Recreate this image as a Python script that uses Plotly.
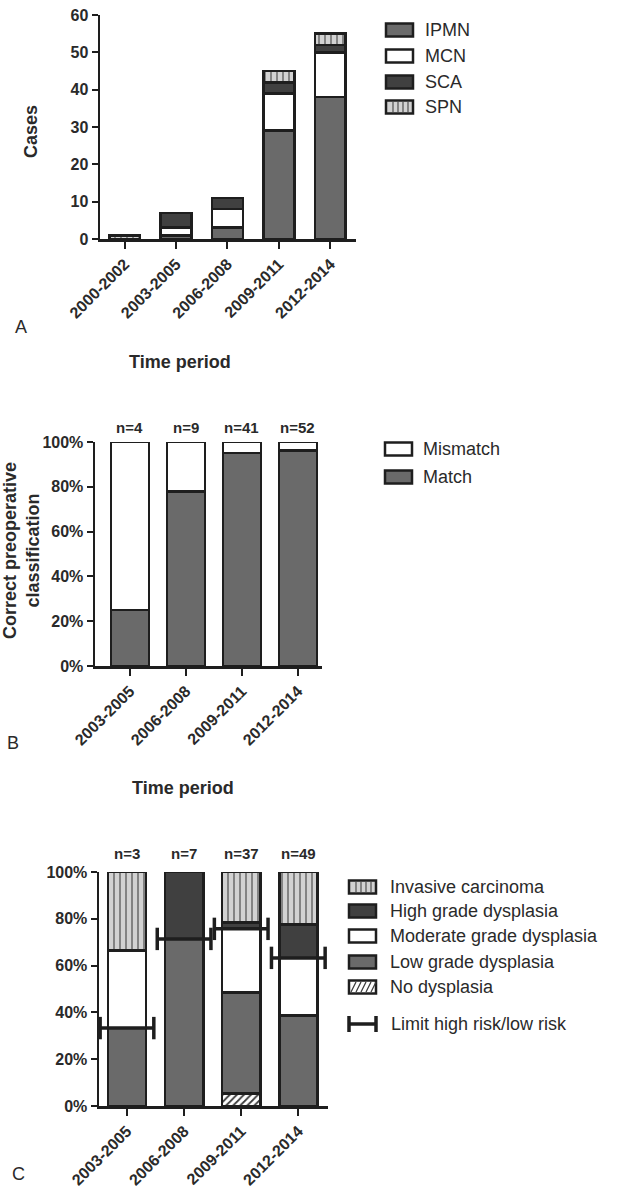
import plotly.graph_objects as go

W, H = 618, 1190

# ---------------- Data ----------------
# Panel A: cases per period
periods_a = ["2000-2002", "2003-2005", "2006-2008", "2009-2011", "2012-2014"]
ipmn = [None, 1, 3, 29, 38]
mcn = [None, 2, 5, 10, 12]
sca = [None, 4, 3, 3, 2]
spn = [1, None, None, 3, 3]

# Panel B: correct preoperative classification (%)
periods_bc = ["2003-2005", "2006-2008", "2009-2011", "2012-2014"]
match = [25.0, 77.8, 95.1, 96.2]
mismatch = [75.0, 22.2, 4.9, 3.8]
n_b = ["n=4", "n=9", "n=41", "n=52"]

# Panel C: grade of dysplasia (%)
no_dys = [None, None, 5.4, None]
low_grade = [33.3, 71.4, 43.2, 38.8]
moderate_grade = [33.3, None, 27.0, 24.5]
high_grade = [None, 28.6, 2.7, 14.3]
invasive = [33.4, None, 21.7, 22.4]
limit_risk = [33.3, 71.4, 75.7, 63.3]
n_c = ["n=3", "n=7", "n=37", "n=49"]

# ---------------- Styles ----------------
FONT = "Liberation Sans, Arial, sans-serif"
INK = "#1e1e1e"
TXT = "#2a2a2a"
MID = "#6a6a6a"
DARK = "#404040"
LIGHT = "#d2d2d2"
OUTLINE = dict(color=INK, width=2.7)

idx_a = list(range(len(periods_a)))
idx_bc = list(range(len(periods_bc)))


def fx(px):
    return px / W


def fy(py):
    return 1 - py / H


fig = go.Figure()


def add_bar(x, y, ax, color, width, pattern=None):
    marker = dict(color=color, line=OUTLINE)
    if pattern:
        marker["pattern"] = pattern
    fig.add_trace(go.Bar(x=x, y=y, xaxis="x" + ax, yaxis="y" + ax,
                         marker=marker, width=width, cliponaxis=False,
                         showlegend=False, hoverinfo="skip"))


stripe = dict(shape="|", bgcolor=LIGHT, fgcolor="#5a5a5a", size=6,
              solidity=0.22, fillmode="replace")
hatch = dict(shape="/", bgcolor="white", fgcolor="#3a3a3a", size=5,
             solidity=0.35, fillmode="replace")

# Panel A
add_bar(idx_a, ipmn, "", MID, 0.6)
add_bar(idx_a, mcn, "", "white", 0.6)
add_bar(idx_a, sca, "", DARK, 0.6)
add_bar(idx_a, spn, "", LIGHT, 0.6, stripe)

# Panel B
add_bar(idx_bc, match, "2", MID, 0.68)
add_bar(idx_bc, mismatch, "2", "white", 0.68)

# Panel C
add_bar(idx_bc, no_dys, "3", "white", 0.67, hatch)
add_bar(idx_bc, low_grade, "3", MID, 0.67)
add_bar(idx_bc, moderate_grade, "3", "white", 0.67)
add_bar(idx_bc, high_grade, "3", DARK, 0.67)
add_bar(idx_bc, invasive, "3", LIGHT, 0.67, stripe)

# Limit high risk / low risk markers (I-beam: line with end caps)
HALF = 0.47
lx, ly = [], []
for i, v in zip(idx_bc, limit_risk):
    lx += [i - HALF, i + HALF, None]
    ly += [v, v, None]
fig.add_trace(go.Scatter(
    x=lx, y=ly, xaxis="x3", yaxis="y3", mode="lines+markers",
    line=dict(color=INK, width=3.5),
    marker=dict(symbol="line-ns", size=16, line=dict(color=INK, width=3.5)),
    cliponaxis=False, showlegend=False, hoverinfo="skip"))

# ---------------- Axes ----------------
ytickfont = dict(family=FONT, size=16, color=TXT, weight="bold")
xtickfont = dict(family=FONT, size=16, color=TXT, weight="bold")


def xax(d0, d1, rng, anchor, vals, labels):
    return dict(domain=[fx(d0), fx(d1)], range=rng, anchor=anchor,
                tickmode="array", tickvals=vals, ticktext=labels,
                showline=True, linecolor=INK, linewidth=2.5, ticks="outside",
                ticklen=7, tickwidth=2, tickcolor=INK, tickangle=-45,
                tickfont=xtickfont, showgrid=False, zeroline=False,
                fixedrange=True, automargin=False)


def yax(d0, d1, rng, tickvals, ticktext, anchor):
    return dict(domain=[fy(d0), fy(d1)], range=rng, anchor=anchor,
                showline=True, linecolor=INK, linewidth=2.5, ticks="outside",
                ticklen=6, tickwidth=2, tickcolor=INK, tickmode="array",
                tickvals=tickvals, ticktext=ticktext, tickfont=ytickfont,
                showgrid=False, zeroline=False, fixedrange=True,
                automargin=False)


pct_vals = [0, 20, 40, 60, 80, 100]
pct_text = [f"{v}%" for v in pct_vals]
a_vals = [0, 10, 20, 30, 40, 50, 60]

fig.update_layout(
    template="none",
    width=W, height=H, margin=dict(l=0, r=0, t=0, b=0, pad=0, autoexpand=False),
    paper_bgcolor="white", plot_bgcolor="white", barmode="stack",
    showlegend=False, font=dict(family=FONT, color=TXT),
    xaxis=xax(100, 356, [-0.48, 4.5], "y", idx_a, periods_a),
    yaxis=yax(239, 15, [0, 60], a_vals, [str(v) for v in a_vals], "x"),
    xaxis2=xax(95, 322, [-0.625, 3.43], "y2", idx_bc, periods_bc),
    yaxis2=yax(666, 442, [0, 100], pct_vals, pct_text, "x2"),
    xaxis3=xax(99, 328, [-0.49, 3.52], "y3", idx_bc, periods_bc),
    yaxis3=yax(1106, 872, [0, 100], pct_vals, pct_text, "x3"),
)

# ---------------- Annotations ----------------
ann = []


def text(px, py, s, size=18, bold=False, angle=0, xanchor="center"):
    ann.append(dict(x=fx(px), y=fy(py), xref="paper", yref="paper", text=s,
                    showarrow=False, textangle=angle, xanchor=xanchor,
                    yanchor="middle",
                    font=dict(family=FONT, size=size, color=TXT,
                              weight="bold" if bold else "normal")))


text(31, 132, "Cases", 18, True, -90)
text(180, 362, "Time period", 18, True)
text(21, 327, "A", 18)
text(21, 551, "Correct preoperative<br>classification", 18, True, -90)
text(183, 788, "Time period", 18, True)
text(13, 743, "B", 18)
text(18, 1174, "C", 18)

for lbl, i in zip(n_b, idx_bc):
    ann.append(dict(x=i, y=fy(427), xref="x2", yref="paper", text=lbl,
                    showarrow=False, yanchor="middle",
                    font=dict(family=FONT, size=15, color=TXT, weight="bold")))
for lbl, i in zip(n_c, idx_bc):
    ann.append(dict(x=i, y=fy(853), xref="x3", yref="paper", text=lbl,
                    showarrow=False, yanchor="middle",
                    font=dict(family=FONT, size=15, color=TXT, weight="bold")))

# ---------------- Legends (manual) ----------------
shapes = []


def rect(x0, yc, fill):
    shapes.append(dict(type="rect", xref="paper", yref="paper",
                       x0=fx(x0), x1=fx(x0 + 27), y0=fy(yc + 6.5), y1=fy(yc - 6.5),
                       fillcolor=fill, line=dict(color=INK, width=2.5)))


def line(x0, y0, x1, y1, color=INK, width=2.5):
    shapes.append(dict(type="line", xref="paper", yref="paper",
                       x0=fx(x0), y0=fy(y0), x1=fx(x1), y1=fy(y1),
                       line=dict(color=color, width=width)))


def striped(x0, yc):
    rect(x0, yc, LIGHT)
    for dx in (7, 12, 17, 22):
        line(x0 + dx, yc - 5, x0 + dx, yc + 5, "#5a5a5a", 1.3)


def hatched(x0, yc):
    rect(x0, yc, "white")
    for dx in (2, 7, 12, 17, 22):
        line(x0 + dx, yc + 5, x0 + dx + 5, yc - 5, "#3a3a3a", 1.3)


def legend_text(px, py, s):
    text(px, py, s, 18, False, 0, "left")


# Legend A
leg_a = [("IPMN", MID), ("MCN", "white"), ("SCA", DARK), ("SPN", None)]
for (name, col), yc in zip(leg_a, [30, 56, 82, 107]):
    if col is None:
        striped(386, yc)
    else:
        rect(386, yc, col)
    legend_text(423, yc, name)

# Legend B
for (name, col), yc in zip([("Mismatch", "white"), ("Match", MID)], [449, 477]):
    rect(385, yc, col)
    legend_text(421, yc, name)

# Legend C
leg_c = [("Invasive carcinoma", "stripe"), ("High grade dysplasia", DARK),
         ("Moderate grade dysplasia", "white"), ("Low grade dysplasia", MID),
         ("No dysplasia", "hatch")]
for (name, col), yc in zip(leg_c, [887, 911, 936, 962, 987]):
    if col == "stripe":
        striped(349, yc)
    elif col == "hatch":
        hatched(349, yc)
    else:
        rect(349, yc, col)
    legend_text(388, yc, name)

line(348, 1024, 377, 1024, INK, 3.5)
line(349, 1016, 349, 1032, INK, 3.5)
line(376, 1016, 376, 1032, INK, 3.5)
legend_text(389, 1024, "Limit high risk/low risk")

fig.update_layout(annotations=ann, shapes=shapes)
fig.write_html("out.html",
               config={"displayModeBar": False, "staticPlot": True},
               post_script="document.body.style.margin='0';"
                           "document.body.style.overflow='hidden';")
